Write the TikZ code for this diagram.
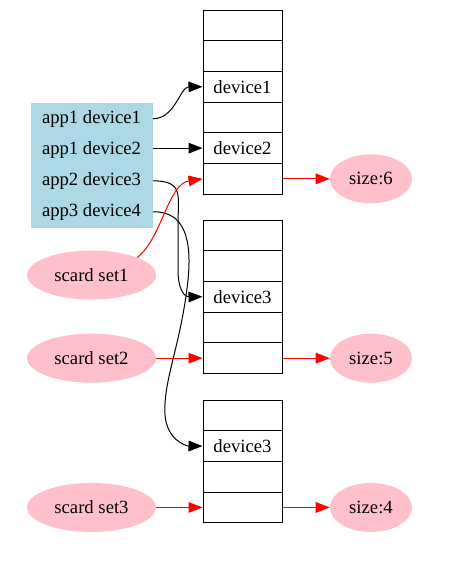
\documentclass[tikz,border=0pt]{standalone}
\usepackage{fontspec}
\setmainfont{Liberation Serif}
\usetikzlibrary{arrows.meta,shapes.geometric}
\definecolor{appBlue}{RGB}{173,216,230}
\definecolor{setPink}{RGB}{255,192,203}
\newcommand{\cellWidth}{59.25pt}
\newcommand{\cellHeight}{23pt}
\newcommand{\rowWidth}{91.5pt}
\newcommand{\stackX}{242.5}
\newcommand{\leftX}{91.5}
\newcommand{\rightX}{371}

\begin{document}
\begin{tikzpicture}[x=0.75pt,y=-0.75pt,font=\fontsize{14}{16}\selectfont]
\tikzstyle{cellNode}=[rectangle,draw,line width=0.75pt,minimum width=\cellWidth,minimum height=\cellHeight,inner sep=0pt]
\tikzstyle{appNode}=[rectangle,fill=appBlue,minimum width=\rowWidth,minimum height=23.6pt,inner sep=0pt]
\tikzstyle{setNode}=[ellipse,fill=setPink,minimum width=96.75pt,minimum height=36.75pt,inner sep=0pt]
\tikzstyle{sizeNode}=[ellipse,fill=setPink,minimum width=61.5pt,minimum height=36.75pt,inner sep=0pt]
\tikzstyle{appEdge}=[-{Triangle[length=10.5pt,width=8pt]},line width=0.75pt]
\tikzstyle{sizeEdge}=[appEdge,red]
\useasboundingbox (0,0) rectangle (451,565);
% app list
\node[appNode] (app-0) at (\leftX,118.8) {app1 device1};
\node[appNode] (app-1) at (\leftX,149.8) {app1 device2};
\node[appNode] (app-2) at (\leftX,180.8) {app2 device3};
\node[appNode] (app-3) at (\leftX,211.8) {app3 device4};
% stack 1
\node[cellNode] (c-1-1) at (\stackX,25.35) {};
\node[cellNode] (c-1-2) at (\stackX,56.05) {};
\node[cellNode] (c-1-3) at (\stackX,86.75) {device1};
\node[cellNode] (c-1-4) at (\stackX,117.45) {};
\node[cellNode] (c-1-5) at (\stackX,148.15) {device2};
\node[cellNode] (c-1-6) at (\stackX,178.85) {};
% stack 2
\node[cellNode] (c-2-1) at (\stackX,235.35) {};
\node[cellNode] (c-2-2) at (\stackX,266.05) {};
\node[cellNode] (c-2-3) at (\stackX,296.75) {device3};
\node[cellNode] (c-2-4) at (\stackX,327.45) {};
\node[cellNode] (c-2-5) at (\stackX,358.15) {};
% stack 3
\node[cellNode] (c-3-1) at (\stackX,415.35) {};
\node[cellNode] (c-3-2) at (\stackX,446.05) {device3};
\node[cellNode] (c-3-3) at (\stackX,476.75) {};
\node[cellNode] (c-3-4) at (\stackX,507.45) {};
% scard sets and sizes
\node[setNode] (set-1) at (\leftX,275) {scard set1};
\node[setNode] (set-2) at (\leftX,358.15) {scard set2};
\node[setNode] (set-3) at (\leftX,507.45) {scard set3};
\node[sizeNode] (size-1) at (\rightX,178.85) {size:6};
\node[sizeNode] (size-2) at (\rightX,358.15) {size:5};
\node[sizeNode] (size-3) at (\rightX,507.45) {size:4};
% app edges
\draw[appEdge] (app-0.east) .. controls (175,119) and (180,87) .. (c-1-3.west);
\draw[appEdge] (app-1.east |- c-1-5.west) -- (c-1-5.west);
\draw[appEdge] (app-2.east) .. controls (184,181) and (178,195) .. (178,225) -- (178,270) .. controls (178,292) and (186,297) .. (c-2-3.west);
\draw[appEdge] (app-3.east) .. controls (185,211) and (192,240) .. (188,280) .. controls (181,345) and (163,380) .. (165,415) .. controls (167,440) and (186,446) .. (c-3-2.west);
% size edges
\draw[sizeEdge] (set-1.north east) .. controls (162,238) and (168,184) .. (c-1-6.west);
\draw[sizeEdge] (set-2.east) -- (c-2-5.west);
\draw[sizeEdge] (set-3.east) -- (c-3-4.west);
\draw[sizeEdge] (c-1-6.east) -- (size-1.west);
\draw[sizeEdge] (c-2-5.east) -- (size-2.west);
\draw[sizeEdge] (c-3-4.east) -- (size-3.west);
\end{tikzpicture}
\end{document}
